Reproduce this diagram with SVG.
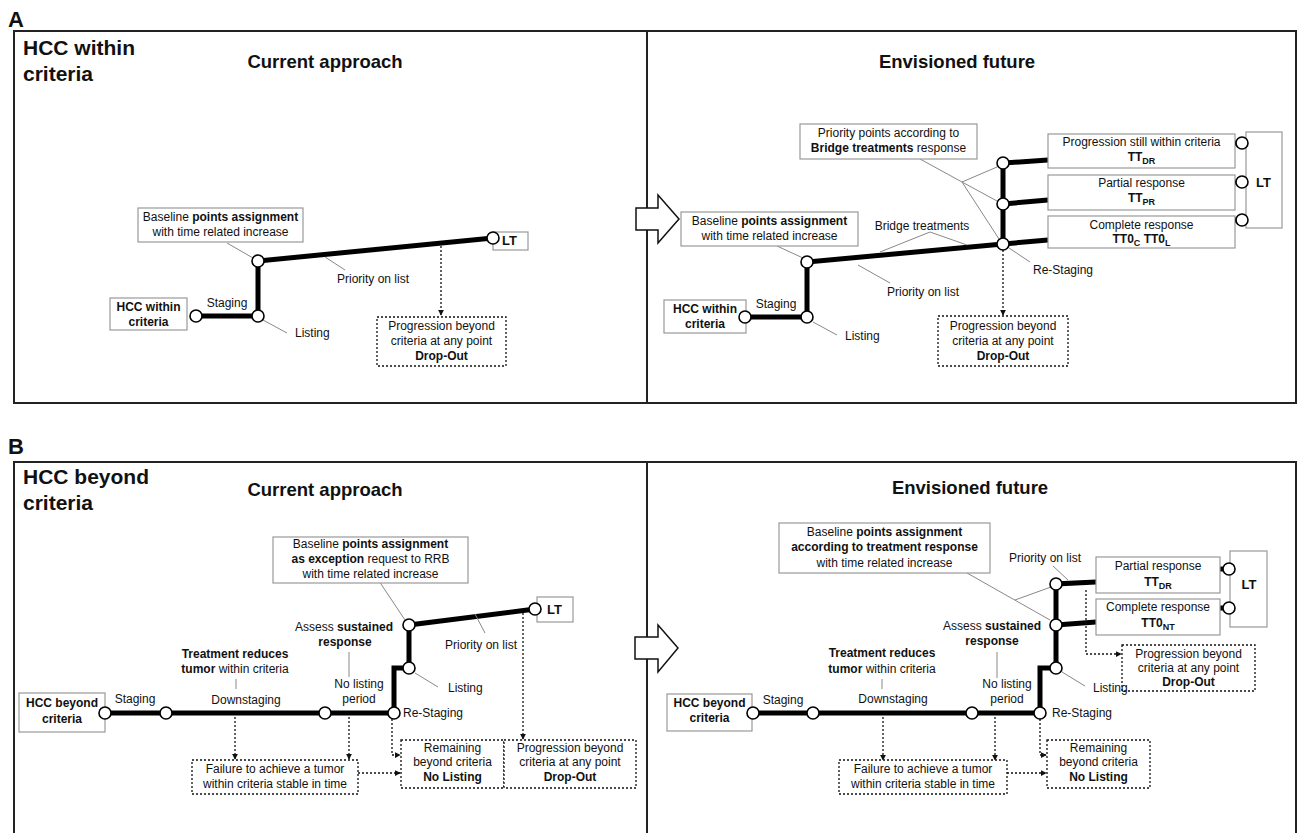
<svg xmlns="http://www.w3.org/2000/svg" width="1301" height="833" viewBox="0 0 1301 833">
<defs>
<style>
text{font-family:"Liberation Sans",Arial,sans-serif;fill:#111;}
.t{font-size:12px;}
.c{text-anchor:middle;}
.b{font-weight:bold;}
.h{font-size:21px;font-weight:bold;}
.ttl{font-size:18.5px;font-weight:bold;text-anchor:middle;}
.lbl{font-size:22px;font-weight:bold;}
.frame{fill:none;stroke:#222;stroke-width:2;}
.box{fill:#fff;stroke:#999;stroke-width:1.2;}
.dbox{fill:#fff;stroke:#111;stroke-width:1.3;stroke-dasharray:2 2;}
.thick{fill:none;stroke:#000;stroke-width:5;stroke-linejoin:miter;}
.nd{fill:#fff;stroke:#000;stroke-width:1.6;}
.lead{fill:none;stroke:#888;stroke-width:1;}
.dot{fill:none;stroke:#111;stroke-width:1.3;stroke-dasharray:2 2;}
.big{fill:#fff;stroke:#111;stroke-width:1.5;}
.sub{font-size:9px;}
</style>
<marker id="ah" viewBox="0 0 8 8" refX="7" refY="4" markerWidth="6" markerHeight="6" orient="auto" markerUnits="userSpaceOnUse">
<path d="M0,0 L8,4 L0,8 z" fill="#111"/>
</marker>
</defs>
<rect width="1301" height="833" fill="#fff"/>

<g id="panelA-frame">
<text class="lbl" x="8" y="27">A</text>
<rect class="frame" x="14" y="31" width="1282" height="372"/>
<line class="frame" x1="647" y1="31" x2="647" y2="403"/>
<text class="h" x="23" y="55">HCC within</text>
<text class="h" x="23" y="81">criteria</text>
<text class="ttl" x="325" y="68">Current approach</text>
<text class="ttl" x="957" y="68">Envisioned future</text>
</g>

<g id="panelB-frame">
<text class="lbl" x="8" y="454">B</text>
<path class="frame" d="M14,833 V462 H1296 V833 M647,462 V833"/>
<text class="h" x="23" y="484">HCC beyond</text>
<text class="h" x="23" y="510">criteria</text>
<text class="ttl" x="325" y="496">Current approach</text>
<text class="ttl" x="970" y="494">Envisioned future</text>
</g>

<g id="connectors">
<!-- A left -->
<path class="thick" d="M196,316 H258 V261 L493,238"/>
<path class="lead" d="M227,243 L253,258 M263,320 L287,333 M325,257 L345,270"/>
<path class="dot" d="M441,246 V315" marker-end="url(#ah)"/>
<!-- A right -->
<path class="thick" d="M745,317 H807 V262 L1003,244 L1048,240 M1003,244 V163 L1048,160 M1003,204 L1048,200"/>
<path class="thick" d="M1235,143 H1238 M1235,182 H1238 M1235,220 H1238"/>
<path class="lead" d="M777,246 L803,258 M930,232 L880,252 M930,232 L967,245 M920,159 L962,182 L997,167 M962,182 L997,201 M962,182 L999,239 M1009,248 L1030,262 M813,322 L837,335 M858,265 L890,283"/>
<path class="dot" d="M1003,250 V315" marker-end="url(#ah)"/>
<!-- B left -->
<path class="thick" d="M105,713 H394 V668 H409 V625 L535,609"/>
<path class="lead" d="M375,575 L405,620 M349,652 V677 M236,679 V689 M415,673 L438,687 M475,614 L485,633"/>
<path class="dot" d="M235,717 V759" marker-end="url(#ah)"/>
<path class="dot" d="M349,717 V759" marker-end="url(#ah)"/>
<path class="dot" d="M392,719 V755 H400" marker-end="url(#ah)"/>
<path class="dot" d="M358,773 H400" marker-end="url(#ah)"/>
<path class="dot" d="M523,613 V739" marker-end="url(#ah)"/>
<!-- B right -->
<path class="thick" d="M753,713 H1040 V668 H1056 V584 L1096,582 M1056,625 L1096,622"/>
<path class="thick" d="M1220,569 H1223 M1220,608 H1223"/>
<path class="lead" d="M967,573 L1050,620 M1015,600 L1051,587 M1053,566 L1068,580 M997,652 V678 M882,679 V689 M1062,672 L1085,686"/>
<path class="dot" d="M883,717 V760" marker-end="url(#ah)"/>
<path class="dot" d="M995,717 V760" marker-end="url(#ah)"/>
<path class="dot" d="M1040,719 V755 H1046" marker-end="url(#ah)"/>
<path class="dot" d="M1007,773 H1046" marker-end="url(#ah)"/>
<path class="dot" d="M1086,590 V654 H1121" marker-end="url(#ah)"/>
</g>

<g id="arrowA"><polygon class="big" points="636,208 658,208 658,195 679,219 658,243 658,230 636,230"/></g>
<g id="arrowB"><polygon class="big" points="635,637 658,637 658,625 678,648 658,672 658,659 635,659"/></g>

<!-- A left nodes -->
<g id="A1-hcc"><rect class="box" x="110" y="298" width="77" height="32"/><text class="t c b" x="148.5" y="311">HCC within</text><text class="t c b" x="148.5" y="326">criteria</text></g>
<g id="A1-baseline"><rect class="box" x="138" y="208" width="165" height="34"/><text class="t c" x="220.5" y="221">Baseline <tspan class="b">points assignment</tspan></text><text class="t c" x="220.5" y="236">with time related increase</text></g>
<g id="A1-lt"><rect class="box" x="493" y="232" width="35" height="18"/><text class="b" font-size="13" x="502" y="245">LT</text></g>
<g id="A1-dropout"><rect class="dbox" x="377" y="317" width="129" height="49"/><text class="t c" x="441.5" y="330">Progression beyond</text><text class="t c" x="441.5" y="345">criteria at any point</text><text class="t c b" x="441.5" y="360">Drop-Out</text></g>
<g id="A1-labels"><text class="t c" x="227" y="307">Staging</text><text class="t" x="295" y="337">Listing</text><text class="t" x="337" y="283">Priority on list</text></g>
<g id="A1-points"><circle class="nd" cx="196" cy="316" r="6"/><circle class="nd" cx="258" cy="316" r="6"/><circle class="nd" cx="258" cy="261" r="6"/><circle class="nd" cx="493" cy="238" r="6"/></g>

<!-- A right nodes -->
<g id="A2-priority"><rect class="box" x="800" y="124" width="177" height="35"/><text class="t c" x="888.5" y="137">Priority points according to</text><text class="t c" x="888.5" y="152"><tspan class="b">Bridge treatments</tspan> response</text></g>
<g id="A2-baseline"><rect class="box" x="681" y="212" width="177" height="34"/><text class="t c" x="769.5" y="225">Baseline <tspan class="b">points assignment</tspan></text><text class="t c" x="769.5" y="240">with time related increase</text></g>
<g id="A2-hcc"><rect class="box" x="664" y="300" width="82" height="33"/><text class="t c b" x="705" y="313">HCC within</text><text class="t c b" x="705" y="328">criteria</text></g>
<g id="A2-prog"><rect class="box" x="1048" y="134" width="187" height="34"/><text class="t c" x="1141.5" y="146">Progression still within criteria</text><text class="t c b" x="1141.5" y="161">TT<tspan class="sub" dy="3">DR</tspan></text></g>
<g id="A2-partial"><rect class="box" x="1048" y="175" width="187" height="35"/><text class="t c" x="1141.5" y="187">Partial response</text><text class="t c b" x="1141.5" y="202">TT<tspan class="sub" dy="3">PR</tspan></text></g>
<g id="A2-complete"><rect class="box" x="1048" y="216" width="187" height="32"/><text class="t c" x="1141.5" y="229">Complete response</text><text class="t c b" x="1141.5" y="243">TT0<tspan class="sub" dy="3">C</tspan><tspan dy="-3"> TT0</tspan><tspan class="sub" dy="3">L</tspan></text></g>
<g id="A2-lt"><rect class="box" x="1246" y="132" width="36" height="96"/><text class="b" font-size="13" x="1256" y="187">LT</text></g>
<g id="A2-dropout"><rect class="dbox" x="938" y="316" width="130" height="50"/><text class="t c" x="1003" y="330">Progression beyond</text><text class="t c" x="1003" y="345">criteria at any point</text><text class="t c b" x="1003" y="360">Drop-Out</text></g>
<g id="A2-labels"><text class="t c" x="922" y="230">Bridge treatments</text><text class="t c" x="776" y="308">Staging</text><text class="t" x="845" y="340">Listing</text><text class="t" x="887" y="296">Priority on list</text><text class="t" x="1033" y="274">Re-Staging</text></g>
<g id="A2-points"><circle class="nd" cx="745" cy="317" r="6"/><circle class="nd" cx="807" cy="317" r="6"/><circle class="nd" cx="807" cy="262" r="6"/><circle class="nd" cx="1003" cy="244" r="6"/><circle class="nd" cx="1003" cy="204" r="6"/><circle class="nd" cx="1003" cy="163" r="6"/><circle class="nd" cx="1242" cy="143" r="6"/><circle class="nd" cx="1242" cy="182" r="6"/><circle class="nd" cx="1242" cy="220" r="6"/></g>

<!-- B left nodes -->
<g id="B1-hcc"><rect class="box" x="19" y="693" width="86" height="39"/><text class="t c b" x="62" y="707">HCC beyond</text><text class="t c b" x="62" y="723">criteria</text></g>
<g id="B1-baseline"><rect class="box" x="273" y="537" width="195" height="46"/><text class="t c" x="370.5" y="548">Baseline <tspan class="b">points assignment</tspan></text><text class="t c" x="370.5" y="563"><tspan class="b">as exception</tspan> request to RRB</text><text class="t c" x="370.5" y="578">with time related increase</text></g>
<g id="B1-lt"><rect class="box" x="537" y="597" width="36" height="25"/><text class="b" font-size="13" x="547" y="614">LT</text></g>
<g id="B1-failure"><rect class="dbox" x="192" y="760" width="166" height="34"/><text class="t c" x="275" y="773">Failure to achieve a tumor</text><text class="t c" x="275" y="788">within criteria stable in time</text></g>
<g id="B1-remaining"><rect class="dbox" x="401" y="740" width="103" height="48"/><text class="t c" x="452.5" y="752">Remaining</text><text class="t c" x="452.5" y="766">beyond criteria</text><text class="t c b" x="452.5" y="781">No Listing</text></g>
<g id="B1-dropout"><rect class="dbox" x="504" y="740" width="132" height="48"/><text class="t c" x="570" y="752">Progression beyond</text><text class="t c" x="570" y="766">criteria at any point</text><text class="t c b" x="570" y="781">Drop-Out</text></g>
<g id="B1-labels"><text class="t c" x="135" y="703">Staging</text><text class="t c b" x="235" y="658">Treatment reduces</text><text class="t c" x="235" y="673"><tspan class="b">tumor</tspan> within criteria</text><text class="t c" x="246" y="704">Downstaging</text><text class="t c" x="344" y="631">Assess <tspan class="b">sustained</tspan></text><text class="t c b" x="345" y="646">response</text><text class="t c" x="359" y="688">No listing</text><text class="t c" x="359" y="703">period</text><text class="t" x="403" y="717">Re-Staging</text><text class="t" x="448" y="692">Listing</text><text class="t" x="445" y="649">Priority on list</text></g>
<g id="B1-points"><circle class="nd" cx="105" cy="713" r="6"/><circle class="nd" cx="166" cy="713" r="6"/><circle class="nd" cx="325" cy="713" r="6"/><circle class="nd" cx="394" cy="713" r="6"/><circle class="nd" cx="409" cy="668" r="6"/><circle class="nd" cx="409" cy="625" r="6"/><circle class="nd" cx="535" cy="609" r="6"/></g>

<!-- B right nodes -->
<g id="B2-baseline"><rect class="box" x="779" y="523" width="211" height="50"/><text class="t c" x="884.5" y="536">Baseline <tspan class="b">points assignment</tspan></text><text class="t c b" x="884.5" y="551">according to treatment response</text><text class="t c" x="884.5" y="567">with time related increase</text></g>
<g id="B2-hcc"><rect class="box" x="667" y="694" width="85" height="37"/><text class="t c b" x="709.5" y="707">HCC beyond</text><text class="t c b" x="709.5" y="722">criteria</text></g>
<g id="B2-partial"><rect class="box" x="1096" y="557" width="124" height="36"/><text class="t c" x="1158" y="570">Partial response</text><text class="t c b" x="1158" y="586">TT<tspan class="sub" dy="3">DR</tspan></text></g>
<g id="B2-complete"><rect class="box" x="1096" y="599" width="124" height="36"/><text class="t c" x="1158" y="611">Complete response</text><text class="t c b" x="1158" y="627">TT0<tspan class="sub" dy="3">NT</tspan></text></g>
<g id="B2-lt"><rect class="box" x="1230" y="551" width="37" height="76"/><text class="b c" font-size="13" x="1249" y="589">LT</text></g>
<g id="B2-dropout"><rect class="dbox" x="1122" y="645" width="133" height="46"/><text class="t c" x="1188.5" y="658">Progression beyond</text><text class="t c" x="1188.5" y="672">criteria at any point</text><text class="t c b" x="1188.5" y="686">Drop-Out</text></g>
<g id="B2-failure"><rect class="dbox" x="839" y="760" width="168" height="34"/><text class="t c" x="923" y="773">Failure to achieve a tumor</text><text class="t c" x="923" y="788">within criteria stable in time</text></g>
<g id="B2-remaining"><rect class="dbox" x="1047" y="740" width="103" height="48"/><text class="t c" x="1098.5" y="752">Remaining</text><text class="t c" x="1098.5" y="766">beyond criteria</text><text class="t c b" x="1098.5" y="781">No Listing</text></g>
<g id="B2-labels"><text class="t c" x="783" y="704">Staging</text><text class="t c b" x="882" y="657">Treatment reduces</text><text class="t c" x="882" y="673"><tspan class="b">tumor</tspan> within criteria</text><text class="t c" x="893" y="703">Downstaging</text><text class="t c" x="992" y="630">Assess <tspan class="b">sustained</tspan></text><text class="t c b" x="992" y="645">response</text><text class="t c" x="1007" y="688">No listing</text><text class="t c" x="1007" y="703">period</text><text class="t" x="1052" y="717">Re-Staging</text><text class="t" x="1093" y="692">Listing</text><text class="t" x="1009" y="562">Priority on list</text></g>
<g id="B2-points"><circle class="nd" cx="753" cy="713" r="6"/><circle class="nd" cx="813" cy="713" r="6"/><circle class="nd" cx="972" cy="713" r="6"/><circle class="nd" cx="1040" cy="713" r="6"/><circle class="nd" cx="1056" cy="668" r="6"/><circle class="nd" cx="1056" cy="625" r="6"/><circle class="nd" cx="1056" cy="584" r="6"/><circle class="nd" cx="1229" cy="569" r="6"/><circle class="nd" cx="1229" cy="608" r="6"/></g>
</svg>
